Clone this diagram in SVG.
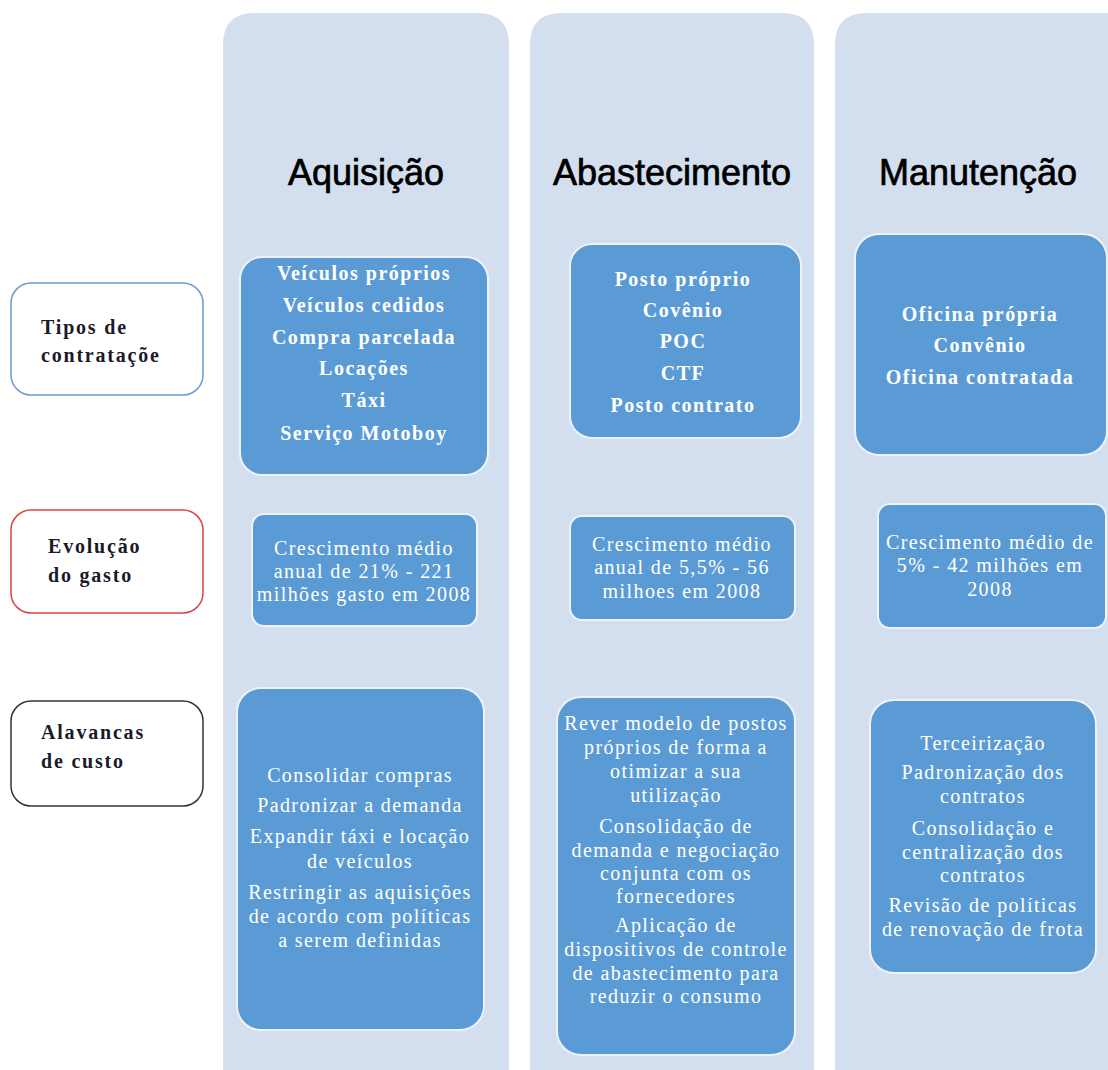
<svg xmlns="http://www.w3.org/2000/svg" width="1108" height="1070" viewBox="0 0 1108 1070">
<style>
.col{fill:#d3deef;}
.box{fill:#5b9bd5;stroke:#eef3fa;stroke-width:2;}
.hdr{font-family:"Liberation Sans",Arial,sans-serif;font-size:36px;fill:#000;stroke:#000;stroke-width:0.7;text-anchor:middle;}
.t{font-family:"Liberation Serif","Times New Roman",serif;font-size:20px;fill:#fff;text-anchor:middle;letter-spacing:1.4px;}
.b{font-weight:bold;letter-spacing:1.5px;}
.lbl{fill:#fff;stroke-width:1.5;}
.lt{font-family:"Liberation Serif","Times New Roman",serif;font-size:20px;font-weight:bold;fill:#1a1a2a;letter-spacing:1.8px;}
</style>
<rect width="1108" height="1070" fill="#fff"/>
<g id="col-aquisicao">
<path class="col" d="M223,1070 V45 Q223,13 255,13 H477 Q509,13 509,45 V1070 Z"/>
<text class="hdr" x="366" y="185">Aquisição</text>
</g>
<g id="col-abastecimento">
<path class="col" d="M530,1070 V45 Q530,13 562,13 H782 Q814,13 814,45 V1070 Z"/>
<text class="hdr" x="672" y="185">Abastecimento</text>
</g>
<g id="col-manutencao">
<path class="col" d="M835,1070 V45 Q835,13 867,13 H1108 V1070 Z"/>
<text class="hdr" x="978" y="185">Manutenção</text>
</g>
<g id="lbl-tipos">
<rect class="lbl" x="11" y="283" width="192" height="112" rx="20" stroke="#6a9bd0"/>
<text class="lt" x="41" y="334">Tipos de</text>
<text class="lt" x="41" y="362">contrataçõe</text>
</g>
<g id="lbl-evolucao">
<rect class="lbl" x="11" y="510" width="192" height="103" rx="20" stroke="#d84545"/>
<text class="lt" x="48" y="553">Evolução</text>
<text class="lt" x="48" y="582">do gasto</text>
</g>
<g id="lbl-alavancas">
<rect class="lbl" x="11" y="701" width="192" height="105" rx="20" stroke="#333"/>
<text class="lt" x="41" y="739">Alavancas</text>
<text class="lt" x="41" y="768">de custo</text>
</g>
<g id="aq-tipos">
<rect class="box" x="240" y="257" width="248" height="218" rx="22"/>
<text class="t b" x="364" y="280">Veículos próprios</text>
<text class="t b" x="364" y="312">Veículos cedidos</text>
<text class="t b" x="364" y="344">Compra parcelada</text>
<text class="t b" x="364" y="375">Locações</text>
<text class="t b" x="364" y="407">Táxi</text>
<text class="t b" x="364" y="440">Serviço Motoboy</text>
</g>
<g id="ab-tipos">
<rect class="box" x="570" y="244" width="231" height="194" rx="22"/>
<text class="t b" x="683" y="286">Posto próprio</text>
<text class="t b" x="683" y="317">Covênio</text>
<text class="t b" x="683" y="348">POC</text>
<text class="t b" x="683" y="380">CTF</text>
<text class="t b" x="683" y="412">Posto contrato</text>
</g>
<g id="ma-tipos">
<rect class="box" x="855" y="234" width="252" height="221" rx="24"/>
<text class="t b" x="980" y="321">Oficina própria</text>
<text class="t b" x="980" y="352">Convênio</text>
<text class="t b" x="980" y="384">Oficina contratada</text>
</g>
<g id="aq-evol">
<rect class="box" x="252" y="514" width="225" height="112" rx="12"/>
<text class="t" x="364" y="555">Crescimento médio</text>
<text class="t" x="364" y="578">anual de 21% - 221</text>
<text class="t" x="364" y="601">milhões gasto em 2008</text>
</g>
<g id="ab-evol">
<rect class="box" x="570" y="516" width="225" height="104" rx="12"/>
<text class="t" x="682" y="551">Crescimento médio</text>
<text class="t" x="682" y="574">anual de 5,5% - 56</text>
<text class="t" x="682" y="598">milhoes em 2008</text>
</g>
<g id="ma-evol">
<rect class="box" x="878" y="504" width="228" height="124" rx="12"/>
<text class="t" x="990" y="549">Crescimento médio de</text>
<text class="t" x="990" y="572">5% - 42 milhões em</text>
<text class="t" x="990" y="596">2008</text>
</g>
<g id="aq-alav">
<rect class="box" x="237" y="688" width="247" height="342" rx="24"/>
<text class="t" x="360" y="782">Consolidar compras</text>
<text class="t" x="360" y="812">Padronizar a demanda</text>
<text class="t" x="360" y="843">Expandir táxi e locação</text>
<text class="t" x="360" y="868">de veículos</text>
<text class="t" x="360" y="899">Restringir as aquisições</text>
<text class="t" x="360" y="923">de acordo com políticas</text>
<text class="t" x="360" y="947">a serem definidas</text>
</g>
<g id="ab-alav">
<rect class="box" x="557" y="697" width="238" height="358" rx="24"/>
<text class="t" x="676" y="730">Rever modelo de postos</text>
<text class="t" x="676" y="754">próprios de forma a</text>
<text class="t" x="676" y="778">otimizar a sua</text>
<text class="t" x="676" y="802">utilização</text>
<text class="t" x="676" y="833">Consolidação de</text>
<text class="t" x="676" y="857">demanda e negociação</text>
<text class="t" x="676" y="880">conjunta com os</text>
<text class="t" x="676" y="903">fornecedores</text>
<text class="t" x="676" y="932">Aplicação de</text>
<text class="t" x="676" y="956">dispositivos de controle</text>
<text class="t" x="676" y="980">de abastecimento para</text>
<text class="t" x="676" y="1003">reduzir o consumo</text>
</g>
<g id="ma-alav">
<rect class="box" x="870" y="700" width="226" height="273" rx="24"/>
<text class="t" x="983" y="750">Terceirização</text>
<text class="t" x="983" y="779">Padronização dos</text>
<text class="t" x="983" y="803">contratos</text>
<text class="t" x="983" y="835">Consolidação e</text>
<text class="t" x="983" y="859">centralização dos</text>
<text class="t" x="983" y="882">contratos</text>
<text class="t" x="983" y="912">Revisão de políticas</text>
<text class="t" x="983" y="936">de renovação de frota</text>
</g>
<g id="connectors"></g>
</svg>
